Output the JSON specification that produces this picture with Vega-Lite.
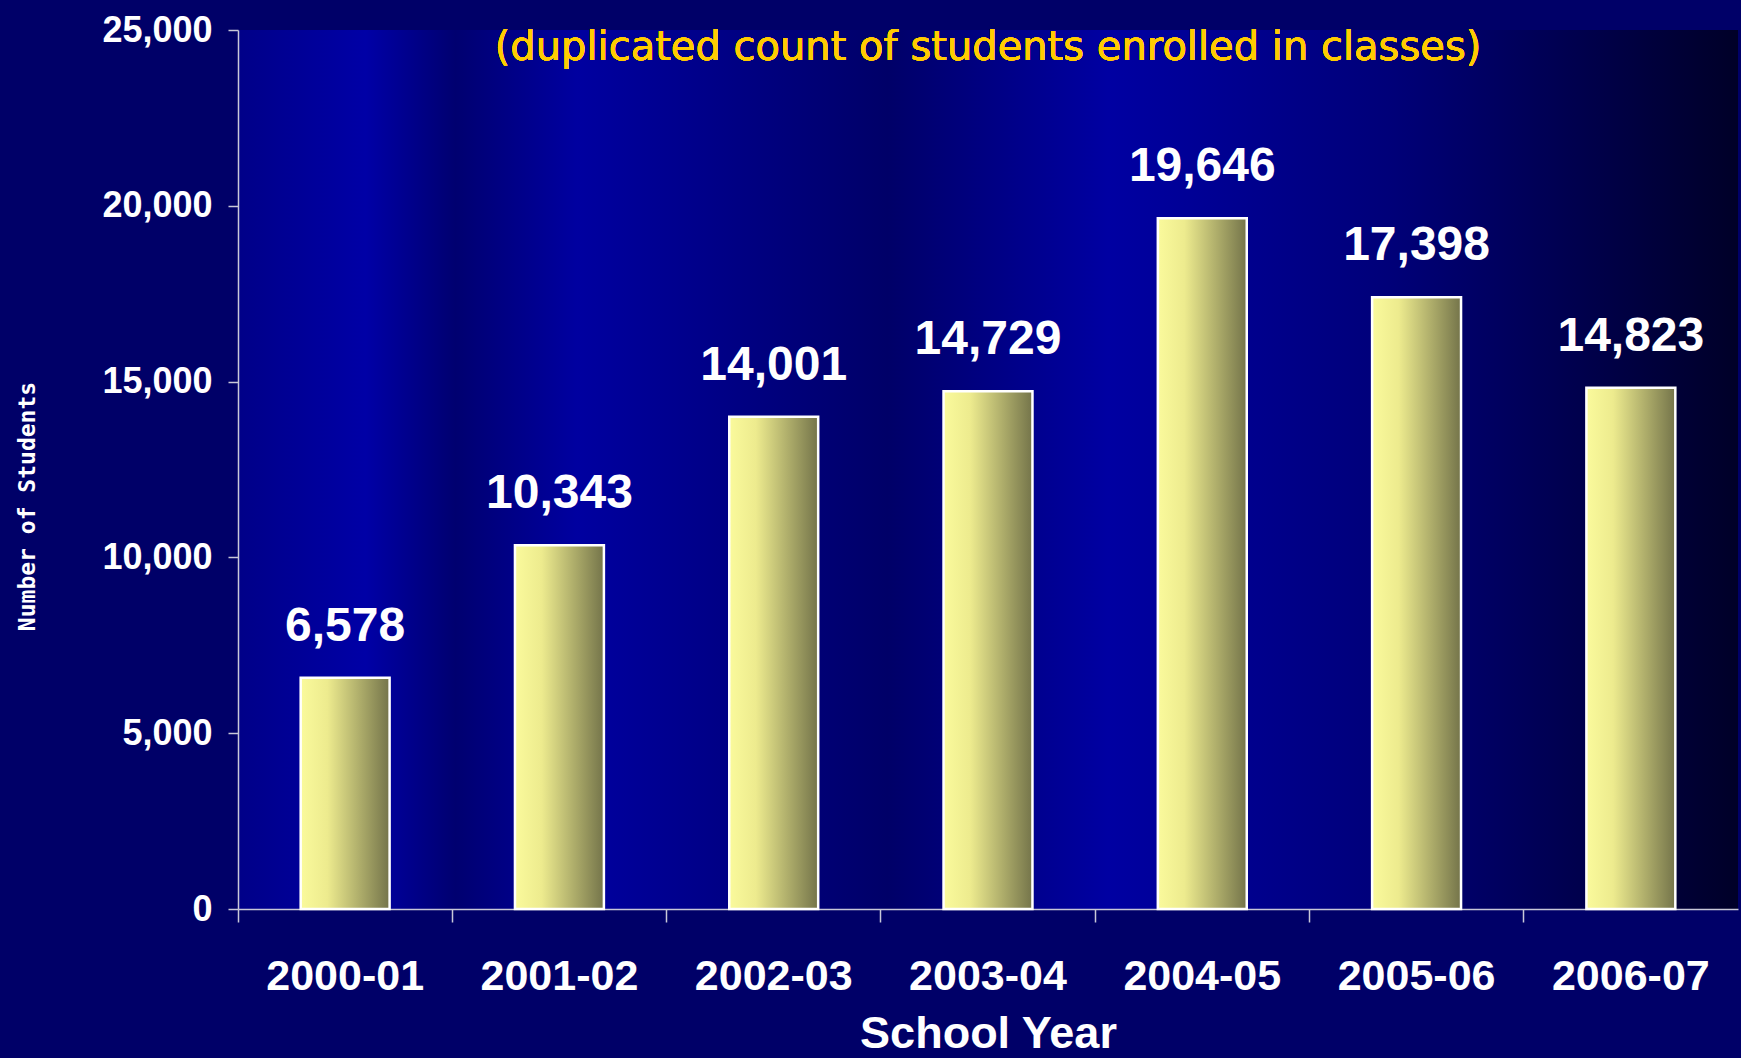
{
  "$schema": "https://vega.github.io/schema/vega-lite/v6.json",
  "width": 1500,
  "height": 879,
  "autosize": "none",
  "padding": {"left": 238, "top": 30, "right": 3, "bottom": 149},
  "background": "#000068",
  "config": {
    "view": {
      "stroke": null,
      "fill": {
        "gradient": "linear", "x1": 0, "x2": 1, "y1": 0, "y2": 0,
        "stops": [
          {"offset": 0, "color": "#000088"},
          {"offset": 0.085, "color": "#0000A6"},
          {"offset": 0.145, "color": "#000070"},
          {"offset": 0.226, "color": "#0000A0"},
          {"offset": 0.433, "color": "#000068"},
          {"offset": 0.58, "color": "#0000A2"},
          {"offset": 0.77, "color": "#000078"},
          {"offset": 1, "color": "#000028"}
        ]
      }
    },
    "axis": {"labelFont": "Liberation Sans", "titleFont": "Liberation Sans", "labelColor": "white", "titleColor": "white", "grid": false}
  },
  "data": {
    "values": [
      {"year": "2000-01", "students": 6578},
      {"year": "2001-02", "students": 10343},
      {"year": "2002-03", "students": 14001},
      {"year": "2003-04", "students": 14729},
      {"year": "2004-05", "students": 19646},
      {"year": "2005-06", "students": 17398},
      {"year": "2006-07", "students": 14823}
    ]
  },
  "encoding": {
    "x": {
      "field": "year", "type": "nominal", "sort": null,
      "scale": {"paddingInner": 0.585, "paddingOuter": 0.2925},
      "axis": {
        "title": "School Year", "titleFontSize": 45, "titleFontWeight": "bold", "titlePadding": 13,
        "labelAngle": 0, "labelFontSize": 43, "labelFontWeight": "bold", "labelPadding": 33,
        "bandPosition": -0.7048, "labelOffset": 0,
        "tickSize": 13, "tickColor": "#C8C8D8", "tickWidth": 1.5,
        "domainColor": "#C8C8D8", "domainWidth": 1.5
      }
    },
    "y": {
      "field": "students", "type": "quantitative",
      "scale": {"domain": [0, 25000], "nice": false},
      "axis": {
        "values": [0, 5000, 10000, 15000, 20000, 25000], "format": ",.0f",
        "labelFontSize": 36, "labelFontWeight": "bold", "labelPadding": 16,
        "tickSize": 10, "tickColor": "#C8C8D8", "tickWidth": 1.5,
        "domainColor": "#C8C8D8", "domainWidth": 1.5,
        "title": "Number of Students", "titleFont": "DejaVu Sans Mono", "titleFontSize": 23, "titleFontWeight": "bold",
        "titleAngle": -90, "titleBaseline": "middle", "titleX": -211, "titleY": 476
      }
    }
  },
  "layer": [
    {
      "mark": {
        "type": "bar",
        "fill": {
          "gradient": "linear", "x1": 0, "x2": 1, "y1": 0, "y2": 0,
          "stops": [
            {"offset": 0, "color": "#FAFA9C"},
            {"offset": 0.3, "color": "#EDEB8E"},
            {"offset": 1, "color": "#74744A"}
          ]
        },
        "stroke": "white", "strokeWidth": 2.5
      }
    },
    {
      "mark": {"type": "text", "font": "Liberation Sans", "fontSize": 48, "fontWeight": "bold", "color": "white", "baseline": "alphabetic", "dy": -37},
      "encoding": {"text": {"field": "students", "type": "quantitative", "format": ",.0f"}}
    },
    {
      "mark": {"type": "text", "font": "DejaVu Sans", "fontSize": 40, "color": "#FFCC00", "baseline": "middle"},
      "encoding": {
        "x": {"datum": "2003-04"},
        "y": {"datum": 24500},
        "text": {"value": "(duplicated count of students enrolled in classes)"}
      }
    }
  ]
}
